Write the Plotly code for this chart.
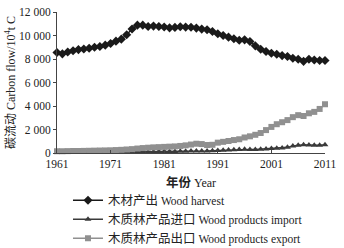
import plotly.graph_objects as go

years = list(range(1961, 2012))
harvest = [8550, 8440, 8600, 8700, 8800, 8850, 8920, 9000, 9060, 9180,
           9320, 9520, 9690, 10060, 10550, 10880, 10880, 10770, 10800, 10760,
           10720, 10650, 10690, 10740, 10716, 10700, 10630, 10545, 10490, 10345,
           10146, 10000, 9860, 9720, 9600, 9630, 9490, 9120, 8835, 8635,
           8490, 8400, 8290, 8210, 8065, 7980, 7800, 7980, 7920, 7870, 7870]
imports = [50, 50, 50, 50, 60, 60, 60, 60, 70, 70,
           70, 80, 80, 90, 90, 100, 100, 110, 110, 120,
           120, 130, 130, 140, 150, 160, 170, 180, 180, 200,
           220, 240, 260, 280, 300, 310, 300, 290, 320, 350,
           380, 400, 420, 480, 600, 650, 700, 680, 650, 660, 700]
exports = [150, 150, 160, 170, 170, 180, 190, 200, 210, 220,
           230, 250, 270, 300, 330, 380, 420, 450, 480, 500,
           520, 540, 560, 600, 650, 720, 790, 760, 680, 700,
           880, 950, 1020, 1100, 1170, 1320, 1420, 1550, 1700, 1950,
           2220, 2450, 2620, 2800, 3050, 3220, 3150, 3380, 3500, 3750, 4150]
cn_names = ["木材产出", "木质林产品进口", "木质林产品出口"]
en_names = ["Wood harvest", "Wood products import", "Wood products export"]
x_ticks = [1961, 1971, 1981, 1991, 2001, 2011]
y_ticks = [0, 2000, 4000, 6000, 8000, 10000, 12000]

serif = "Liberation Serif, Noto Sans CJK SC, serif"


def label(cn, en):
    return '<span style="font-size:12.5px">' + cn + '</span> ' + en


fig = go.Figure()
fig.add_trace(go.Scatter(x=years, y=harvest, name=label(cn_names[0], en_names[0]),
                         mode="lines+markers",
                         line=dict(color="#1a1a1a", width=1.5),
                         marker=dict(symbol="diamond", size=7, color="#1a1a1a"),
                         cliponaxis=False))
fig.add_trace(go.Scatter(x=years, y=imports, name=label(cn_names[1], en_names[1]),
                         mode="lines+markers",
                         line=dict(color="#3a3a3a", width=1.5),
                         marker=dict(symbol="triangle-up", size=6, color="#3a3a3a"),
                         cliponaxis=False))
fig.add_trace(go.Scatter(x=years, y=exports, name=label(cn_names[2], en_names[2]),
                         mode="lines+markers",
                         line=dict(color="#909090", width=1.5),
                         marker=dict(symbol="square", size=6, color="#909090"),
                         cliponaxis=False))

fig.update_layout(
    width=344, height=248,
    margin=dict(l=57, r=19, t=12, b=95, pad=0, autoexpand=False),
    paper_bgcolor="white", plot_bgcolor="white",
    font=dict(family=serif, size=11.5, color="#222"),
    separators=". ",
    showlegend=True,
    legend=dict(x=0.041, y=-0.232, xanchor="left", yanchor="top",
                orientation="v", itemwidth=30, tracegroupgap=0,
                font=dict(family=serif, size=11.5, color="#222"),
                bgcolor="rgba(0,0,0,0)"),
    xaxis=dict(range=[1961, 2011], tickvals=x_ticks, showline=True, linecolor="#444",
               linewidth=1, ticks="inside", ticklen=3, tickcolor="#444",
               showgrid=False, zeroline=False, automargin=False,
               title=dict(text='<span style="font-size:12.5px"><b>年份</b></span> Year',
                          standoff=9, font=dict(size=12))),
    yaxis=dict(range=[0, 12000], tickvals=y_ticks, tickformat=",d", showline=True,
               linecolor="#444", linewidth=1, ticks="outside", ticklen=3,
               tickcolor="#444", showgrid=False, zeroline=False, automargin=False,
               title=dict(text="碳流动 Carbon flow/10<sup>4</sup>t C", standoff=0,
                          font=dict(size=12))),
)

fig.write_html("out.html", config={"displayModeBar": False},
               post_script="document.body.style.margin='0';document.body.style.overflow='hidden';")
